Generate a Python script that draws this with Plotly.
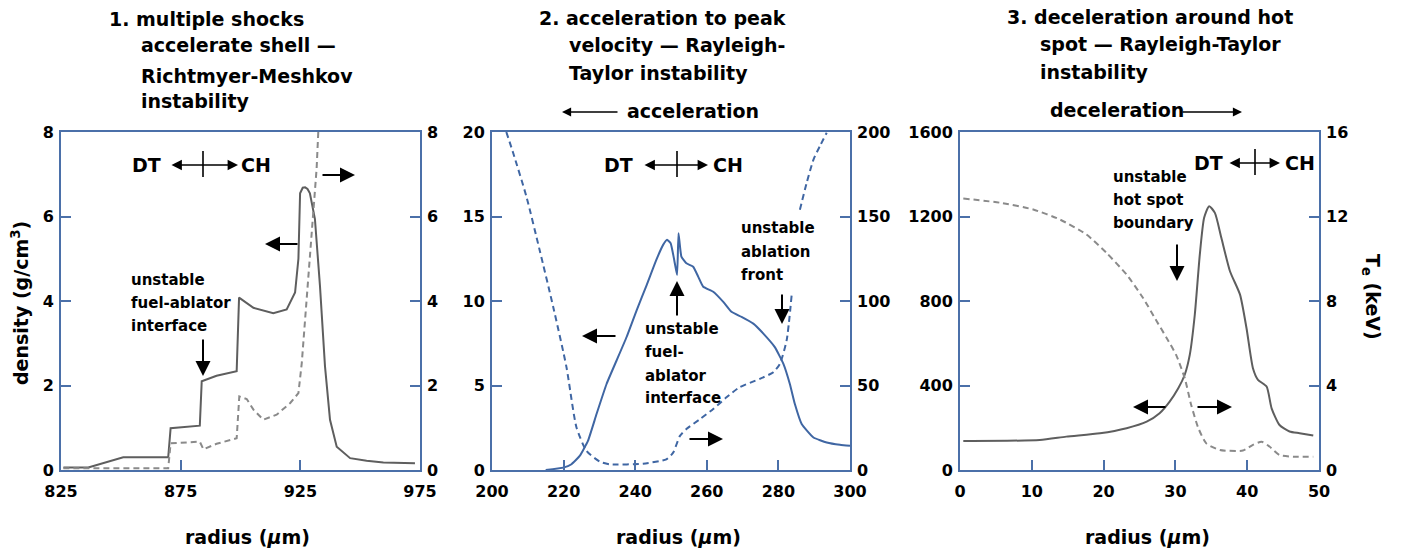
import plotly.graph_objects as go

W, H = 1420, 557
def px(x): return x / W
def py(y): return 1 - y / H

# ---------------- data ----------------
# Panel 1: multiple shocks (radius in um)
p1_r_solid = [826, 836.4, 851, 869.8, 870.8, 883, 883.8, 890, 898.4, 899.4, 905.4, 913.7, 919.3,
              922.8, 924.2, 924.9, 926, 927, 928, 929, 931.1, 933.2, 935.3, 937.4, 940.2, 945.8,
              952.7, 959.7, 972.9]
p1_density = [0.06, 0.06, 0.30, 0.30, 0.99, 1.05, 2.10, 2.23, 2.34, 4.08, 3.84, 3.71, 3.80,
              4.20, 5.00, 6.55, 6.68, 6.69, 6.65, 6.55, 5.94, 4.36, 2.46, 1.19, 0.55, 0.28,
              0.22, 0.18, 0.16]
p1_r_dash = [826, 869.8, 870.8, 883, 884.5, 890, 898.4, 899.5, 902.6, 905.4, 909.5, 915.1, 920.7,
             924.2, 925.6, 927, 929, 930.4, 931.8, 932.5, 933.5]
p1_right = [0.04, 0.04, 0.63, 0.67, 0.49, 0.62, 0.75, 1.74, 1.68, 1.43, 1.19, 1.31, 1.58,
            1.82, 2.53, 3.56, 4.99, 6.02, 7.13, 8.0, 9.0]

# Panel 2: acceleration to peak velocity
p2_r_solid = [215.0, 219.9, 222.2, 224.5, 226.8, 229.2, 232.0, 234.8, 237.6, 240.4, 243.2, 245.9,
              247.8, 248.9, 249.9, 250.9, 251.7, 252.1, 252.9, 254.3, 256.2, 257.6, 259.0, 261.8,
              264.6, 266.9, 269.7, 273.0, 275.8, 279.0, 281.4, 283.2, 284.6, 286.5, 289.8, 293.5,
              297.2, 300.0]
p2_density = [0.0, 0.14, 0.34, 0.83, 1.72, 3.31, 5.09, 6.48, 7.87, 9.45, 10.94, 12.43,
              13.32, 13.62, 13.42, 12.43, 11.54, 14.01, 12.63, 12.23, 12.03, 11.44, 10.84, 10.55,
              9.95, 9.36, 9.06, 8.66, 8.07, 7.27, 6.28, 5.09, 3.90, 2.72, 1.92, 1.63,
              1.49, 1.43]
p2_r_dash = [204.0, 205.9, 209.6, 213.3, 217.1, 220.8, 223.6, 226.4, 230.1, 232.9, 242.2, 248.7,
             250.6, 252.5, 254.3, 258.1, 261.8, 265.5, 269.2, 274.8, 278.6, 280.4, 282.3, 283.7,
             None, 286.0, 287.9, 289.8, 291.6, 293.5]
p2_right = [200.0, 187.7, 161.9, 130.2, 96.5, 60.9, 25.2, 11.3, 4.96, 3.37, 3.77, 6.34,
            10.3, 20.2, 24.2, 30.1, 36.1, 43.0, 49.0, 53.9, 57.9, 62.8, 76.7, 103.5,
            None, 154.0, 169.9, 183.7, 191.7, 199.6]

# Panel 3: deceleration around hot spot
p3_r_solid = [0.46, 11.1, 14.8, 19.5, 23.2, 26.0, 27.8, 29.2, 30.4, 31.3, 32.0, 32.7, 33.4, 34.0,
              34.7, 35.5, 36.4, 37.6, 39.0, 39.9, 40.8, 41.5, 42.7, 43.4, 44.5, 45.9, 47.3, 49.2]
p3_density = [137, 142, 158, 174, 198, 229, 269, 324, 387, 451, 545, 735, 1020, 1194,
              1249, 1217, 1099, 941, 830, 672, 482, 427, 395, 292, 213, 182, 174, 163]
p3_r_dash = [0.46, 5.6, 10.2, 13.9, 17.6, 20.4, 23.2, 25.5, 27.4, 28.8, 30.1, 31.3, 32.2, 33.2,
             34.3, 36.2, 39.4, 40.8, 42.0, 43.1, 44.5, 46.4, 49.2]
p3_Te = [12.85, 12.65, 12.33, 11.86, 11.15, 10.28, 9.25, 8.14, 7.04, 6.24, 5.45, 4.35, 3.08, 1.98,
         1.26, 0.95, 0.92, 1.19, 1.34, 1.11, 0.71, 0.63, 0.63]

# ticks
p1_xlabels = [825, 875, 925, 975]
p1_xtop = [855, 885, 915, 945]
p1_yticks = [0, 2, 4, 6, 8]
p2_xlabels = [200, 220, 240, 260, 280, 300]
p2_yleft = [0, 5, 10, 15, 20]
p2_yright = [0, 50, 100, 150, 200]
p3_xlabels = [0, 10, 20, 30, 40, 50]
p3_yleft = [0, 400, 800, 1200, 1600]
p3_yright = [0, 4, 8, 12, 16]

# ---------------- style ----------------
FONT = "DejaVu Sans"
FRAME = "#4b70a9"
GRAY_S = "#5e5e5e"
GRAY_D = "#8a8a8a"
BLUE = "#3f66a3"
TICKFONT = dict(family=FONT, size=16, color="black", weight="bold")
DASH = "6px,4px"

fig = go.Figure()

fig.add_trace(go.Scatter(x=p1_r_solid, y=p1_density, mode="lines", xaxis="x", yaxis="y",
                         line=dict(color=GRAY_S, width=2)))
fig.add_trace(go.Scatter(x=p1_r_dash, y=p1_right, mode="lines", xaxis="x", yaxis="y2",
                         line=dict(color=GRAY_D, width=2, dash=DASH)))
fig.add_trace(go.Scatter(x=p2_r_solid, y=p2_density, mode="lines", xaxis="x2", yaxis="y3",
                         line=dict(color=BLUE, width=2, shape="spline", smoothing=0.4)))
fig.add_trace(go.Scatter(x=p2_r_dash, y=p2_right, mode="lines", xaxis="x2", yaxis="y4",
                         line=dict(color=BLUE, width=2, dash=DASH, shape="spline", smoothing=0.6),
                         connectgaps=False))
fig.add_trace(go.Scatter(x=p3_r_solid, y=p3_density, mode="lines", xaxis="x3", yaxis="y5",
                         line=dict(color=GRAY_S, width=2, shape="spline", smoothing=0.6)))
fig.add_trace(go.Scatter(x=p3_r_dash, y=p3_Te, mode="lines", xaxis="x3", yaxis="y6",
                         line=dict(color=GRAY_D, width=2, dash=DASH, shape="spline", smoothing=0.6)))

YDOM = [py(470), py(132)]
panels = [
    dict(dom=[px(61), px(420)], xr=[825, 975], xl=p1_xlabels, xt=p1_xtop,
         yl=[0, 8], ylt=p1_yticks, yr=[0, 8], yrt=p1_yticks),
    dict(dom=[px(492), px(850)], xr=[200, 300], xl=p2_xlabels, xt=p2_xlabels,
         yl=[0, 20], ylt=p2_yleft, yr=[0, 200], yrt=p2_yright),
    dict(dom=[px(960), px(1319)], xr=[0, 50], xl=p3_xlabels, xt=p3_xlabels,
         yl=[0, 1600], ylt=p3_yleft, yr=[0, 16], yrt=p3_yright),
]

layout = dict(width=W, height=H, margin=dict(l=0, r=0, t=0, b=0, pad=0, autoexpand=False),
              autosize=False, template="none",
              paper_bgcolor="white", plot_bgcolor="white", showlegend=False,
              font=dict(family=FONT, color="black"))

for i, p in enumerate(panels):
    xb = "xaxis" if i == 0 else f"xaxis{i+1}"
    xid = "x" if i == 0 else f"x{i+1}"
    xt = f"xaxis{i+4}"
    yl_n = 2 * i + 1
    yl = "yaxis" if yl_n == 1 else f"yaxis{yl_n}"
    ylid = "y" if yl_n == 1 else f"y{yl_n}"
    yr = f"yaxis{yl_n+1}"
    layout[xb] = dict(domain=p["dom"], range=p["xr"], anchor=ylid, showline=True, mirror=True,
                      linecolor=FRAME, linewidth=2, ticks="inside", ticklen=10, tickwidth=2,
                      tickcolor=FRAME, tickvals=p["xl"], showgrid=False, zeroline=False,
                      tickfont=TICKFONT, ticklabelstandoff=6, automargin=False)
    layout[xt] = dict(domain=p["dom"], range=p["xr"], anchor=ylid, overlaying=xid, side="top",
                      showline=False, ticks="inside", ticklen=10, tickwidth=2, tickcolor=FRAME,
                      tickvals=p["xt"], showticklabels=False, showgrid=False, zeroline=False,
                      automargin=False)
    layout[yl] = dict(domain=YDOM, range=p["yl"], anchor=xid, showline=True, mirror=True,
                      linecolor=FRAME, linewidth=2, ticks="inside", ticklen=10, tickwidth=2,
                      tickcolor=FRAME, tickvals=p["ylt"], showgrid=False, zeroline=False,
                      tickfont=TICKFONT, ticklabelstandoff=2, automargin=False)
    layout[yr] = dict(domain=YDOM, range=p["yr"], anchor=xid, overlaying=ylid, side="right",
                      showline=False, ticks="inside", ticklen=10, tickwidth=2, tickcolor=FRAME,
                      tickvals=p["yrt"], showgrid=False, zeroline=False, tickfont=TICKFONT,
                      ticklabelstandoff=6, automargin=False)

fig.update_layout(**layout)

ann = []
shapes = []

def text(x, y, t, size=19, anchor="left"):
    ann.append(dict(x=px(x), y=py(y), xref="paper", yref="paper", text=t, showarrow=False,
                    xanchor=anchor, yanchor="middle",
                    font=dict(family=FONT, size=size, color="black", weight="bold")))

def arrow(hx, hy, tx, ty, both=False, w=2, size=1.5):
    ann.append(dict(x=px(hx), y=py(hy), xref="paper", yref="paper", text="", showarrow=True,
                    ax=tx - hx, ay=ty - hy, axref="pixel", ayref="pixel",
                    arrowhead=2, startarrowhead=2, arrowsize=size, startarrowsize=size,
                    arrowwidth=w, arrowcolor="black",
                    arrowside="end+start" if both else "end"))

def dtch(x_dt, x_ch, a0, a1, bar, y):
    text(x_dt, y, "DT", anchor="center")
    text(x_ch, y, "CH", anchor="center")
    arrow(a1, y, a0, y, both=True, w=1.6, size=1.3)
    shapes.append(dict(type="line", xref="paper", yref="paper", x0=px(bar), x1=px(bar),
                       y0=py(y - 14), y1=py(y + 12), line=dict(color="black", width=1.6)))

# titles
text(107, 19, "1. multiple shocks")
text(139, 45, "accelerate shell —")
text(139, 76, "Richtmyer-Meshkov")
text(139, 101, "instability")
text(537, 18, "2. acceleration to peak")
text(567, 45, "velocity — Rayleigh-")
text(567, 73, "Taylor instability")
text(1005, 17, "3. deceleration around hot")
text(1038, 44, "spot — Rayleigh-Taylor")
text(1038, 72, "instability")

# acceleration / deceleration
text(625, 111, "acceleration")
arrow(562, 112, 619, 112, w=1.4, size=1.3)
text(1048, 110, "deceleration")
arrow(1242, 112, 1181, 112, w=1.4, size=1.3)

# DT <-> CH
dtch(146, 256, 170, 238, 203, 165)
dtch(618, 728, 643, 708, 677, 165)
dtch(1208, 1300, 1228, 1280, 1255, 163)

# panel 1 annotations
for yy, t in [(280, "unstable"), (303, "fuel-ablator"), (326, "interface")]:
    text(129, yy, t, size=15)
arrow(203, 376, 203, 338)
arrow(265, 244, 299, 244)
arrow(355, 175, 321, 175)

# panel 2 annotations
for yy, t in [(329, "unstable"), (352, "fuel-"), (376, "ablator"), (398, "interface")]:
    text(643, yy, t, size=15)
for yy, t in [(228, "unstable"), (252, "ablation"), (275, "front")]:
    text(739, yy, t, size=15)
arrow(582, 336, 617, 336)
arrow(677, 281, 677, 317)
arrow(723, 439, 688, 439)
arrow(782, 324, 782, 293)

# panel 3 annotations
for yy, t in [(177, "unstable"), (200, "hot spot"), (223, "boundary")]:
    text(1111, yy, t, size=15)
arrow(1177, 281, 1177, 243)
arrow(1133, 407, 1167, 407)
arrow(1232, 407, 1196, 407)

# axis titles
for cx in [247, 678, 1147]:
    text(cx, 537, "radius (<i>µ</i>m)", anchor="center")
ann.append(dict(x=px(20), y=py(303), xref="paper", yref="paper",
                text="density (g/cm<sup>3</sup>)", showarrow=False, textangle=-90,
                xanchor="center", yanchor="middle",
                font=dict(family=FONT, size=19, color="black", weight="bold")))
ann.append(dict(x=px(1372), y=py(297), xref="paper", yref="paper",
                text="T<sub>e</sub> (keV)", showarrow=False, textangle=90,
                xanchor="center", yanchor="middle",
                font=dict(family=FONT, size=19, color="black", weight="bold")))

fig.update_layout(annotations=ann, shapes=shapes)
fig.write_html("out.html")
